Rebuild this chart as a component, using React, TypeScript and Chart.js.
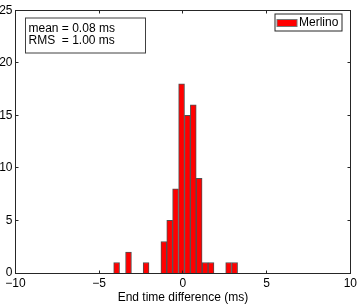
import React, { useEffect, useRef } from "react";
import { Chart, registerables } from "chart.js";

Chart.register(...registerables);

// Histogram bin centres (ms) and counts
const binCenters = [-3.96, -3.25, -2.20, -1.14, -0.79, -0.44, -0.08, 0.27, 0.62, 0.97, 1.33, 1.68, 2.73, 3.09];
const counts = [1, 2, 1, 3, 5, 8, 18, 15, 16, 9, 1, 1, 1, 1];

const xTicks = [-10, -5, 0, 5, 10];
const yTicks = [0, 5, 10, 15, 20, 25];
const seriesLabel = "Merlino";
const statsLines = ["mean = 0.08 ms", "RMS  = 1.00 ms"];
const xTitle = "End time difference (ms)";

const FONT = "'Liberation Sans', Arial, Helvetica, sans-serif";

const fmt = (v: number) => (v < 0 ? "\u2212" + Math.abs(v) : String(v));

const boxPlugin = {
  id: "matlabBox",
  afterDraw(chart: any) {
    const { ctx, chartArea } = chart;
    const xs = chart.scales.x;
    const ys = chart.scales.y;
    const L = Math.floor(chartArea.left) + 0.5;
    const R = Math.floor(chartArea.right) + 0.5;
    const T = Math.floor(chartArea.top) + 0.5;
    const B = Math.floor(chartArea.bottom) + 0.5;
    ctx.save();
    ctx.strokeStyle = "#262626";
    ctx.lineWidth = 1;
    ctx.strokeRect(L, T, R - L, B - T);
    const tl = 3;
    ctx.beginPath();
    for (const t of xTicks) {
      const px = Math.floor(xs.getPixelForValue(t)) + 0.5;
      ctx.moveTo(px, B);
      ctx.lineTo(px, B - tl);
      ctx.moveTo(px, T);
      ctx.lineTo(px, T + tl);
    }
    for (const t of yTicks) {
      const py = Math.floor(ys.getPixelForValue(t)) + 0.5;
      ctx.moveTo(L, py);
      ctx.lineTo(L + tl, py);
      ctx.moveTo(R, py);
      ctx.lineTo(R - tl, py);
    }
    ctx.stroke();

    // stats text box (top-left)
    ctx.fillStyle = "#ffffff";
    ctx.strokeStyle = "#404040";
    const bx = L + 10, by = T + 7.5, bw = 120, bh = 35;
    ctx.fillRect(bx, by, bw, bh);
    ctx.strokeRect(bx, by, bw, bh);
    ctx.fillStyle = "#000000";
    ctx.font = `12px ${FONT}`;
    ctx.textBaseline = "middle";
    ctx.textAlign = "left";
    ctx.fillText(statsLines[0], bx + 3, by + 10.5);
    ctx.fillText(statsLines[1], bx + 3, by + 23);

    // legend (top-right)
    const lx = Math.floor(R) - 75, ly = T + 3.5, lw = 67, lh = 17;
    ctx.fillStyle = "#ffffff";
    ctx.strokeStyle = "#262626";
    ctx.fillRect(lx, ly, lw, lh);
    ctx.strokeRect(lx, ly, lw, lh);
    ctx.fillStyle = "#ff0000";
    ctx.fillRect(lx + 2, ly + 5.5, 20, 7);
    ctx.strokeStyle = "#777777";
    ctx.strokeRect(lx + 2, ly + 5.5, 20, 7);
    ctx.fillStyle = "#000000";
    ctx.fillText(seriesLabel, lx + 24, ly + 9);
    ctx.restore();
  },
};

export default function App() {
  const ref = useRef<HTMLCanvasElement | null>(null);

  useEffect(() => {
    if (!ref.current) return;
    Chart.defaults.font.family = FONT;
    Chart.defaults.font.size = 12;
    Chart.defaults.color = "#000000";
    const chart = new Chart(ref.current, {
      type: "bar",
      data: {
        datasets: [
          {
            label: seriesLabel,
            data: binCenters.map((c, i) => ({ x: c, y: counts[i] })),
            backgroundColor: "#ff0000",
            borderColor: "#505050",
            borderWidth: { top: 1, left: 1, right: 1, bottom: 0 },
            borderSkipped: false,
            barPercentage: 1,
            categoryPercentage: 1,
          },
        ],
      },
      options: {
        animation: false,
        responsive: false,
        devicePixelRatio: 1,
        layout: { padding: { top: 10, right: 9.5, left: 0, bottom: 0 } },
        plugins: { legend: { display: false }, tooltip: { enabled: false } },
        scales: {
          x: {
            type: "linear",
            min: -10,
            max: 10,
            offset: false,
            grid: { display: false, drawTicks: false, tickLength: 0 },
            border: { display: false },
            ticks: {
              stepSize: 5,
              padding: 3,
              maxRotation: 0,
              autoSkip: false,
              callback: (v: any) => fmt(Number(v)),
            },
            title: { display: true, text: xTitle, font: { size: 12 }, padding: { top: 0, bottom: 3 } },
            afterFit: (s: any) => {
              s.height = 35;
            },
          },
          y: {
            min: 0,
            max: 25,
            grid: { display: false, drawTicks: false, tickLength: 0 },
            border: { display: false },
            ticks: { stepSize: 5, padding: 3, callback: (v: any) => fmt(Number(v)) },
            afterFit: (s: any) => {
              s.width = 15.5;
            },
          },
        },
      },
      plugins: [boxPlugin],
    } as any);
    return () => chart.destroy();
  }, []);

  return (
    <div style={{ position: "fixed", left: 0, top: 0, width: 360, height: 308, background: "#fff" }}>
      <canvas ref={ref} width={360} height={308} style={{ width: 360, height: 308, display: "block" }} />
    </div>
  );
}
